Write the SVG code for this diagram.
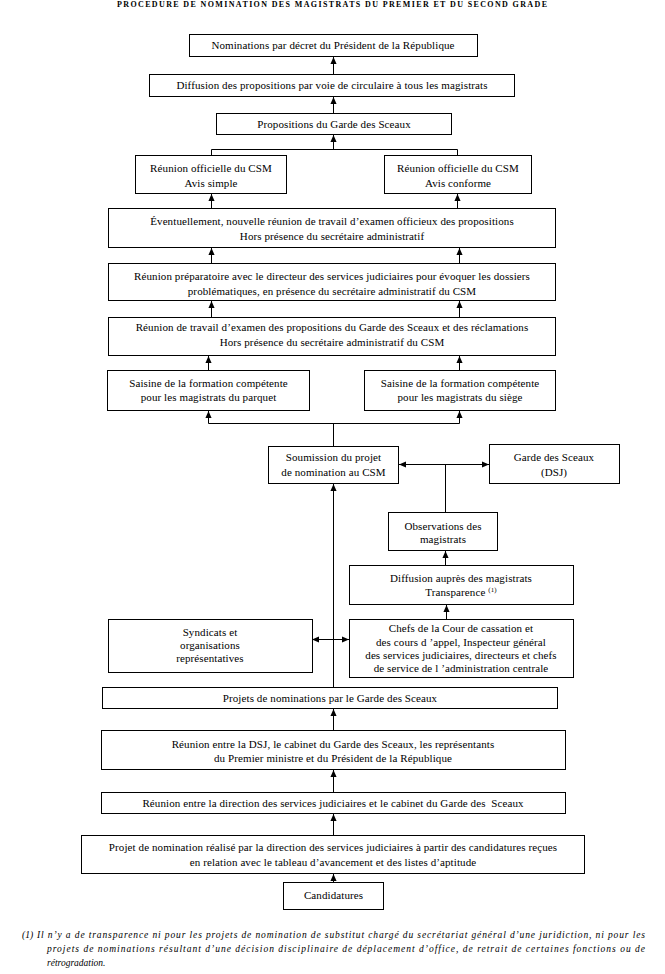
<svg xmlns="http://www.w3.org/2000/svg" width="665" height="974" viewBox="0 0 665 974">
<style>
.b{fill:#fff;stroke:#000;stroke-width:1}
.t{font-family:"Liberation Serif","Times New Roman",serif;font-size:11px;letter-spacing:0.1px;fill:#000;text-anchor:middle}
.c{fill:none;stroke:#000;stroke-width:1}
.a{marker-end:url(#ah)}
.d{marker-start:url(#ah);marker-end:url(#ah)}
.title{font-family:"Liberation Serif","Times New Roman",serif;font-size:8px;font-weight:bold;fill:#000}
.fn{font-family:"Liberation Serif","Times New Roman",serif;font-size:9.5px;font-style:italic;fill:#000}
</style>
<defs>
<marker id="ah" viewBox="0 0 8 8" refX="8" refY="4" markerWidth="7" markerHeight="7" orient="auto-start-reverse" markerUnits="userSpaceOnUse">
<path d="M0,0.5 L8,4 L0,7.5 z" fill="#000"/>
</marker>
</defs>
<rect width="665" height="974" fill="#fff"/>
<text class="title" x="117" y="7" textLength="430" lengthAdjust="spacing">PROCEDURE DE NOMINATION DES MAGISTRATS DU PREMIER ET DU SECOND GRADE</text>

<g id="connectors">
<line class="c a" x1="333.5" y1="74" x2="333.5" y2="57"/>
<line class="c a" x1="333.5" y1="113" x2="333.5" y2="97"/>
<path class="c" d="M211.5,155 V149.5 H457.5 V155"/>
<line class="c a" x1="333.5" y1="149.5" x2="333.5" y2="135"/>
<line class="c a" x1="211.5" y1="208" x2="211.5" y2="194"/>
<line class="c a" x1="457.5" y1="208" x2="457.5" y2="194"/>
<line class="c a" x1="211.5" y1="263" x2="211.5" y2="248"/>
<line class="c a" x1="459.5" y1="263" x2="459.5" y2="248"/>
<line class="c a" x1="211.5" y1="317" x2="211.5" y2="301"/>
<line class="c a" x1="459.5" y1="317" x2="459.5" y2="301"/>
<line class="c a" x1="208.5" y1="370" x2="208.5" y2="356"/>
<line class="c a" x1="459.5" y1="370" x2="459.5" y2="356"/>
<line class="c" x1="208.5" y1="423.5" x2="459.5" y2="423.5"/>
<line class="c a" x1="208.5" y1="423.5" x2="208.5" y2="411"/>
<line class="c a" x1="459.5" y1="423.5" x2="459.5" y2="411"/>
<line class="c" x1="333.5" y1="423.5" x2="333.5" y2="446"/>
<line class="c d" x1="399" y1="464.5" x2="489" y2="464.5"/>
<line class="c" x1="445.5" y1="464.5" x2="445.5" y2="512"/>
<line class="c a" x1="445.5" y1="565" x2="445.5" y2="551"/>
<line class="c a" x1="446.5" y1="619" x2="446.5" y2="605"/>
<line class="c a" x1="333.5" y1="687" x2="333.5" y2="484"/>
<line class="c d" x1="312" y1="639.5" x2="349" y2="639.5"/>
<line class="c a" x1="333.5" y1="730" x2="333.5" y2="709"/>
<line class="c a" x1="333.5" y1="792" x2="333.5" y2="770"/>
<line class="c a" x1="333.5" y1="835" x2="333.5" y2="814"/>
<line class="c a" x1="333.5" y1="882" x2="333.5" y2="874"/>
</g>

<g id="n1"><rect class="b" x="189.5" y="34.5" width="288" height="22"/><text class="t" x="333" y="49">Nominations par décret du Président de la République</text></g>
<g id="n2"><rect class="b" x="149.5" y="74.5" width="365" height="22"/><text class="t" x="332" y="89">Diffusion des propositions par voie de circulaire à tous les magistrats</text></g>
<g id="n3"><rect class="b" x="216.5" y="113.5" width="235" height="21"/><text class="t" x="334" y="128">Propositions du Garde des Sceaux</text></g>
<g id="n4a"><rect class="b" x="135.5" y="155.5" width="151" height="38"/><text class="t" x="211" y="172">Réunion officielle du CSM</text><text class="t" x="211" y="187">Avis simple</text></g>
<g id="n4b"><rect class="b" x="384.5" y="155.5" width="147" height="38"/><text class="t" x="458" y="172">Réunion officielle du CSM</text><text class="t" x="458" y="187">Avis conforme</text></g>
<g id="n5"><rect class="b" x="108.5" y="208.5" width="447" height="39"/><text class="t" x="332" y="225">Éventuellement, nouvelle réunion de travail d’examen officieux des propositions</text><text class="t" x="332" y="240">Hors présence du secrétaire administratif</text></g>
<g id="n6"><rect class="b" x="108.5" y="263.5" width="447" height="37"/><text class="t" x="332" y="280">Réunion préparatoire avec le directeur des services judiciaires pour évoquer les dossiers</text><text class="t" x="332" y="295">problématiques, en présence du secrétaire administratif du CSM</text></g>
<g id="n7"><rect class="b" x="108.5" y="317.5" width="447" height="38"/><text class="t" x="332" y="331">Réunion de travail d’examen des propositions du Garde des Sceaux et des réclamations</text><text class="t" x="332" y="346">Hors présence du secrétaire administratif du CSM</text></g>
<g id="n8a"><rect class="b" x="107.5" y="370.5" width="202" height="40"/><text class="t" x="208.5" y="387">Saisine de la formation compétente</text><text class="t" x="208.5" y="401">pour les magistrats du parquet</text></g>
<g id="n8b"><rect class="b" x="364.5" y="370.5" width="191" height="40"/><text class="t" x="460" y="387">Saisine de la formation compétente</text><text class="t" x="460" y="401">pour les magistrats du siège</text></g>
<g id="n9"><rect class="b" x="268.5" y="446.5" width="130" height="37"/><text class="t" x="333.5" y="461">Soumission du projet</text><text class="t" x="333.5" y="476">de nomination au CSM</text></g>
<g id="n10"><rect class="b" x="489.5" y="444.5" width="130" height="39"/><text class="t" x="554" y="461">Garde des Sceaux</text><text class="t" x="554" y="476">(DSJ)</text></g>
<g id="n11"><rect class="b" x="388.5" y="512.5" width="109" height="38"/><text class="t" x="443" y="530">Observations des</text><text class="t" x="443" y="543">magistrats</text></g>
<g id="n12"><rect class="b" x="349.5" y="565.5" width="224" height="39"/><text class="t" x="461" y="582">Diffusion auprès des magistrats</text><text class="t" x="461" y="596">Transparence <tspan font-size="7" dy="-4">(1)</tspan></text></g>
<g id="n13a"><rect class="b" x="108.5" y="619.5" width="204" height="53"/><text class="t" x="210" y="636">Syndicats et</text><text class="t" x="210" y="649">organisations</text><text class="t" x="210" y="662">représentatives</text></g>
<g id="n13b"><rect class="b" x="349.5" y="619.5" width="224" height="58"/><text class="t" x="461" y="632">Chefs de la Cour de cassation et</text><text class="t" x="461" y="646">des cours d ’appel, Inspecteur général</text><text class="t" x="461" y="659">des services judiciaires, directeurs et chefs</text><text class="t" x="461" y="672">de service de l ’administration centrale</text></g>
<g id="n14"><rect class="b" x="102.5" y="687.5" width="455" height="21"/><text class="t" x="330" y="702">Projets de nominations par le Garde des Sceaux</text></g>
<g id="n15"><rect class="b" x="101.5" y="730.5" width="464" height="39"/><text class="t" x="333" y="748">Réunion entre la DSJ, le cabinet du Garde des Sceaux, les représentants</text><text class="t" x="333" y="762">du Premier ministre et du Président de la République</text></g>
<g id="n16"><rect class="b" x="101.5" y="792.5" width="464" height="21"/><text class="t" x="333" y="807" xml:space="preserve">Réunion entre la direction des services judiciaires et le cabinet du Garde des  Sceaux</text></g>
<g id="n17"><rect class="b" x="81.5" y="835.5" width="503" height="38"/><text class="t" x="333" y="851">Projet de nomination réalisé par la direction des services judiciaires à partir des candidatures reçues</text><text class="t" x="333" y="866">en relation avec le tableau d’avancement et des listes d’aptitude</text></g>
<g id="n18"><rect class="b" x="283.5" y="882.5" width="100" height="27"/><text class="t" x="333.5" y="899">Candidatures</text></g>

<g id="footnote">
<text class="fn" x="22" y="938">(1)</text>
<text class="fn" x="37" y="938" textLength="608" lengthAdjust="spacing">Il n’y a de transparence ni pour les projets de nomination de substitut chargé du secrétariat général d’une juridiction, ni pour les</text>
<text class="fn" x="47" y="952" textLength="598" lengthAdjust="spacing">projets de nominations résultant d’une décision disciplinaire de déplacement d’office, de retrait de certaines fonctions ou de</text>
<text class="fn" x="47" y="966">rétrogradation.</text>
</g>
</svg>
